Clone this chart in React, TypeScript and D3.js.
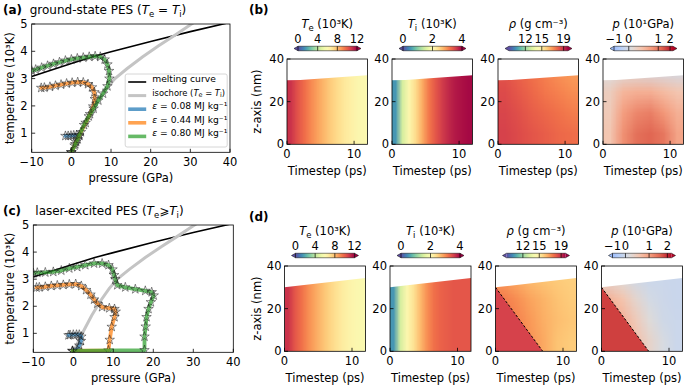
import { useMemo } from 'react'
import * as d3 from 'd3'

type Pt = [number, number]

// ---------- (a) / (c): temperature (10^3 K) against pressure (GPa) ----------
const pressureTicks = [-10, 0, 10, 20, 30, 40]
const temperatureTicks = [1, 2, 3, 4, 5]

const meltingCurve: Pt[] = [[-10, 3.08], [0, 3.55], [5.4, 3.8], [10, 3.98], [20, 4.36], [30, 4.72], [40, 5.06]]
const isochore: Pt[] = [[-0.2, 0.24], [2, 0.93], [4.6, 1.66], [7, 2.24], [9, 2.66], [11, 3.0], [14, 3.36],
  [18, 3.8], [22, 4.2], [26, 4.58], [30.3, 5.0], [32, 5.16]]

// ground-state PES trajectories
const groundLow: Pt[] = [[0, 0.3], [0.8, 0.55], [1.6, 0.78], [2.0, 0.9], [1.3, 0.92], [0.6, 0.92], [-0.1, 0.91], [-0.8, 0.9], [-1.5, 0.9]]
const groundMid: Pt[] = [[0, 0.3], [1.2, 0.68], [2.4, 1.04], [3.6, 1.38], [4.7, 1.7], [5.5, 1.98], [5.9, 2.25], [5.8, 2.5],
  [5.2, 2.68], [4.2, 2.8], [3, 2.86], [1.6, 2.87], [0.2, 2.85], [-1.2, 2.82], [-2.6, 2.78], [-4, 2.74], [-5.4, 2.7], [-6.8, 2.67], [-7.6, 2.66]]
const groundHigh: Pt[] = [[0, 0.3], [1, 0.6], [2, 0.93], [3.2, 1.3], [4.4, 1.62], [5.6, 1.9], [6.8, 2.2], [8, 2.45], [9.1, 2.72],
  [9.6, 3.0], [9.5, 3.28], [9.1, 3.52], [8.4, 3.7], [7.3, 3.8], [6, 3.82], [4.5, 3.8], [3, 3.77], [1.5, 3.74], [0, 3.7],
  [-1.5, 3.66], [-3, 3.6], [-4.5, 3.54], [-6, 3.47], [-7.5, 3.4], [-9, 3.33], [-10, 3.29]]

// laser-excited PES trajectories
const laserLow: Pt[] = [[-0.2, 0.35], [1, 0.4], [1.5, 0.55], [1.9, 0.72], [2.0, 0.88], [1.5, 0.95], [0.8, 0.95], [0, 0.95], [-0.8, 0.94], [-1.2, 0.93]]
const laserMid: Pt[] = [[-0.2, 0.35], [8.8, 0.37], [9.1, 0.76], [9.6, 1.24], [10.3, 1.6], [10.6, 1.8], [10.3, 1.9], [9, 1.93],
  [7.2, 1.97], [6, 2.1], [5.2, 2.25], [4.3, 2.43], [3.2, 2.6], [2, 2.75], [0.6, 2.82], [-1, 2.81], [-2.5, 2.79], [-4, 2.77],
  [-5.5, 2.75], [-7, 2.72], [-8.5, 2.7], [-9.2, 2.69]]
const laserHigh: Pt[] = [[-0.2, 0.35], [17.8, 0.38], [17.8, 0.88], [18.1, 1.25], [18.3, 1.6], [18.8, 1.9], [19.4, 2.15], [20.1, 2.4],
  [19.6, 2.52], [18, 2.57], [15.5, 2.63], [13, 2.7], [11, 2.78], [10.5, 3.0], [10.2, 3.15], [9.8, 3.36], [8.8, 3.52], [7.2, 3.58],
  [5.2, 3.58], [3, 3.52], [1, 3.45], [-1, 3.4], [-3, 3.32], [-5, 3.27], [-7, 3.25], [-9, 3.24], [-10, 3.22]]

const fluences = ['0.08', '0.44', '0.80']
const fluenceColors = ['#1f77b4', '#ff7f0e', '#2ca02c']

// ---------- (b) / (d): fields over time (ps) and depth (nm) ----------
const timeTicks = [0, 10]
const depthTicks = [0, 20, 40]

// 1-D profiles, one value per picosecond (0.5 ... 11.5 ps), uniform in depth
const teGround = [11.0, 10.3, 9.7, 9.1, 8.6, 8.1, 7.6, 7.2, 6.8, 6.5, 6.2, 6.0]
const tiGround = [0.5, 1.5, 2.05, 2.4, 2.8, 3.15, 3.4, 3.6, 3.75, 3.85, 3.9, 3.95]
const teLaser = [11.0, 10.2, 9.6, 9.0, 8.5, 8.0, 7.5, 7.1, 6.7, 6.4, 6.1, 5.9]
const tiLaser = [0.5, 1.5, 2.05, 2.35, 2.7, 3.0, 3.2, 3.3, 3.35, 3.4, 3.4, 3.4]

// 2-D fields, columns at 1,3,...,11 ps, rows at 35,25,15,5 nm
const rhoGround = [
  [18.2, 17.9, 17.6, 17.3, 17.0, 16.8],
  [18.4, 18.1, 17.8, 17.5, 17.3, 17.1],
  [18.5, 18.3, 18.0, 17.8, 17.6, 17.4],
  [18.6, 18.4, 18.2, 18.0, 17.8, 17.7],
]
const pGround = [
  [0.05, 0.05, 0.05, 0.0, -0.05, -0.1],
  [0.3, 0.55, 0.6, 0.6, 0.5, 0.4],
  [0.35, 0.75, 0.9, 0.95, 0.8, 0.6],
  [0.4, 0.85, 1.1, 1.25, 1.0, 0.7],
]
const rhoLaser = [
  [16.8, 16.5, 16.2, 16.0, 15.9, 15.8],
  [17.4, 17.1, 16.7, 16.4, 16.1, 15.9],
  [17.6, 17.3, 16.9, 16.5, 16.2, 16.0],
  [17.6, 17.4, 17.0, 16.6, 16.1, 15.9],
]
const pLaser = [
  [0.25, 0.15, 0.0, -0.1, -0.1, -0.15],
  [0.8, 0.6, 0.3, 0.05, -0.05, -0.15],
  [0.9, 0.8, 0.5, 0.2, 0.0, -0.1],
  [1.0, 0.9, 0.65, 0.35, 0.1, -0.1],
]

const surfaceGround: Pt[] = [[0, 30], [2, 30.2], [12, 32.4]]
const surfaceLaser: Pt[] = [[0, 30], [12, 34.4]]
const shockFront: Pt[] = [[0, 30], [7, 0]]
const rhoBehindShock = 18.6
const pBehindShock = 1.85

const teTicks = [0, 4, 8, 12]
const tiTicks = [0, 2, 4]
const rhoTicks = [12, 15, 19]
const pTicks = [-1, 0, 1, 2]

// ---------- colour maps ----------
const FONT = "'DejaVu Sans', sans-serif"
const spectralR = (f: number) => d3.interpolateSpectral(1 - f)
const coolwarm = d3.piecewise(d3.interpolateRgb, ['#3b4cc0', '#6282ea', '#8db0fe', '#b8d0f9', '#dddddd',
  '#f5c4ad', '#f49a7b', '#de604d', '#b40426'])
const pMap = (f: number) => coolwarm(0.3 + 0.7 * f)

type Norm = { frac: (v: number) => number; cmap: (f: number) => string }
const linNorm = (lo: number, hi: number): Norm => ({ frac: d3.scaleLinear([lo, hi], [0, 1]), cmap: spectralR })
const normTe = linNorm(0, 12)
const normTi = linNorm(0, 4)
const normRho = linNorm(9, 19.8)
const normPGround: Norm = { frac: d3.scaleLinear([-1, 0, 1, 2], [0, 0.25, 0.75, 0.95]), cmap: pMap }
const normPLaser: Norm = { frac: d3.scaleLinear([-1, 0, 1, 2], [0, 0.22, 0.62, 0.93]), cmap: pMap }
const colorOf = (n: Norm, v: number) => n.cmap(Math.max(0, Math.min(1, n.frac(v))))

type Part = string | { it: string; sub?: string }
function rich(parts: Part[], subSize: number, shift = 2.5) {
  const out: any[] = []
  let down = false
  parts.forEach((p, i) => {
    if (typeof p === 'string') {
      out.push(<tspan key={i} dy={down ? -shift : 0}>{p}</tspan>)
      down = false
    } else {
      out.push(<tspan key={i + 'a'} fontStyle="italic" dy={down ? -shift : 0}>{p.it}</tspan>)
      down = false
      if (p.sub) {
        out.push(<tspan key={i + 'b'} dy={shift} fontSize={subSize}>{p.sub}</tspan>)
        down = true
      }
    }
  })
  return out
}

function fieldImage(grid: number[][], norm: Norm, w: number, h: number) {
  const small = document.createElement('canvas')
  small.width = grid[0].length
  small.height = grid.length
  const sctx = small.getContext('2d')!
  grid.forEach((row, j) => row.forEach((v, i) => {
    sctx.fillStyle = colorOf(norm, v)
    sctx.fillRect(i, j, 1, 1)
  }))
  const big = document.createElement('canvas')
  big.width = w
  big.height = h
  const bctx = big.getContext('2d')!
  bctx.imageSmoothingEnabled = true
  bctx.imageSmoothingQuality = 'low'
  bctx.drawImage(small, 0, 0, w, h)
  return big.toDataURL()
}

type Box = { left: number; right: number; top: number; bottom: number }

function PESPanel({ id, box, curves, tag, title, legend }: {
  id: string; box: Box; curves: Pt[][]; tag: string; title: Part[]; legend?: boolean
}) {
  const x = d3.scaleLinear([-10, 40], [box.left, box.right])
  const y = d3.scaleLinear([0.3, 5], [box.bottom, box.top])
  const line = d3.line<Pt>().x(d => x(d[0])).y(d => y(d[1]))
  const star = d3.symbol(d3.symbolStar, 28)()!
  const order = [0, 1, 2]
  const lx = box.left + 93.5, ly = box.top + 50
  return (
    <g>
      <defs>
        <clipPath id={`clip-${id}`}>
          <rect x={box.left} y={box.top} width={box.right - box.left} height={box.bottom - box.top} />
        </clipPath>
      </defs>
      <text x={3} y={box.top - 10} fontSize={12} fontWeight="bold">{tag}</text>
      <text x={box.left - 2 + (id === 'c' ? 4 : 0)} y={box.top - 10} fontSize={12}>{rich(title, 8.5)}</text>
      <g clipPath={`url(#clip-${id})`}>
        <path d={line(meltingCurve)!} fill="none" stroke="#000" strokeWidth={1.6} />
        <path d={line(isochore)!} fill="none" stroke="#c4c4c4" strokeWidth={3} />
        {order.map(i => (
          <g key={i}>
            <path d={line(curves[i])!} fill="none" stroke={fluenceColors[i]} strokeOpacity={0.72}
              strokeWidth={3.8} strokeLinejoin="round" strokeLinecap="round" />
            {curves[i].map((d, k) => (
              <path key={k} d={star} transform={`translate(${x(d[0])},${y(d[1])})`}
                fill="none" stroke="#1b1b1b" strokeOpacity={0.85} strokeWidth={0.6} />
            ))}
          </g>
        ))}
      </g>
      <rect x={box.left} y={box.top} width={box.right - box.left} height={box.bottom - box.top}
        fill="none" stroke="#000" strokeWidth={0.8} />
      {pressureTicks.map(t => (
        <g key={t}>
          <line x1={x(t)} x2={x(t)} y1={box.bottom} y2={box.bottom - 3.5} stroke="#000" strokeWidth={0.8} />
          <text x={x(t)} y={box.bottom + 14} fontSize={11.5} textAnchor="middle">{t < 0 ? `\u2212${-t}` : t}</text>
        </g>
      ))}
      {temperatureTicks.map(t => (
        <g key={t}>
          <line x1={box.left} x2={box.left + 3.5} y1={y(t)} y2={y(t)} stroke="#000" strokeWidth={0.8} />
          <text x={box.left - 4} y={y(t)} dy="0.36em" fontSize={11.5} textAnchor="end">{t}</text>
        </g>
      ))}
      <text x={(box.left + box.right) / 2} y={box.bottom + 30} fontSize={11.5} textAnchor="middle">pressure (GPa)</text>
      <text transform={`translate(${10},${(box.top + box.bottom) / 2}) rotate(-90)`} fontSize={11.5}
        textAnchor="middle" dy="0.35em">temperature (10³K)</text>
      {legend && (
        <g>
          <rect x={lx} y={ly} width={102} height={73} rx={2} fill="#fff" fillOpacity={0.85}
            stroke="#cccccc" strokeWidth={0.8} />
          {[
            { c: '#000', w: 1.6, o: 1, t: ['melting curve'] as Part[] },
            { c: '#c4c4c4', w: 3, o: 1, t: ['isochore (', { it: 'T', sub: 'e' }, ' = ', { it: 'T', sub: 'i' }, ')'] as Part[] },
            ...fluences.map((f, i) => ({ c: fluenceColors[i], w: 3.6, o: 0.72, t: [{ it: 'ε' }, ` = ${f} MJ kg⁻¹`] as Part[] })),
          ].map((e, i) => (
            <g key={i}>
              <line x1={lx + 3} x2={lx + 21} y1={ly + 8 + i * 13.6} y2={ly + 8 + i * 13.6}
                stroke={e.c} strokeWidth={e.w} strokeOpacity={e.o} />
              <text x={lx + 27} y={ly + 8 + i * 13.6} dy="0.35em" fontSize={i === 1 ? 8.4 : 9.2}>{rich(e.t, 6.5, 1.8)}</text>
            </g>
          ))}
        </g>
      )}
    </g>
  )
}

function FieldPanel({ id, left, top, width, grid, norm, surface, ticks, cbTitle, shock }: {
  id: string; left: number; top: number; width: number; grid: number[][]; norm: Norm; surface: Pt[];
  ticks: number[]; cbTitle: Part[]; shock?: number
}) {
  const height = 85.3
  const x = d3.scaleLinear([0, 12], [left, left + width])
  const y = d3.scaleLinear([0, 40], [top + height, top])
  const line = d3.line<Pt>().x(d => x(d[0])).y(d => y(d[1]))
  const region = line([[0, 0], ...surface, [12, 0]])! + 'Z'
  const href = useMemo(() => fieldImage(grid, norm, Math.round(width), Math.round(height)), [grid, norm, width])
  const cb0 = left + 7, cb1 = left + 74, arrow = 4, cbY = top - 10.5, cbH = 4.5
  const inner = d3.scaleLinear([0, 1], [cb0 + arrow, cb1 - arrow])
  const stops = d3.range(0, 1.0001, 0.05)
  return (
    <g>
      <defs>
        <clipPath id={`clip-${id}`}><path d={region} /></clipPath>
        <linearGradient id={`grad-${id}`} x1="0" x2="1" y1="0" y2="0">
          {stops.map(s => <stop key={s} offset={s} stopColor={norm.cmap(s)} />)}
        </linearGradient>
      </defs>
      <image href={href} x={left} y={top} width={width} height={height} preserveAspectRatio="none"
        clipPath={`url(#clip-${id})`} />
      {shock !== undefined && (
        <g clipPath={`url(#clip-${id})`}>
          <path d={line([[0, 0], ...shockFront])! + 'Z'} fill={colorOf(norm, shock)} />
          <path d={line(shockFront)!} fill="none" stroke="#000" strokeWidth={1} strokeDasharray="2.5,1.8" />
        </g>
      )}
      <rect x={left} y={top} width={width} height={height} fill="none" stroke="#000" strokeWidth={0.8} />
      {timeTicks.map(t => (
        <g key={t}>
          <line x1={x(t)} x2={x(t)} y1={top + height} y2={top + height - 3.5} stroke="#000" strokeWidth={0.8} />
          <text x={x(t)} y={top + height + 14} fontSize={11.5} textAnchor="middle">{t}</text>
        </g>
      ))}
      {depthTicks.map(t => (
        <g key={t}>
          <line x1={left} x2={left + 3.5} y1={y(t)} y2={y(t)} stroke="#000" strokeWidth={0.8} />
          <text x={left - 3} y={y(t)} dy="0.36em" fontSize={11.5} textAnchor="end">{t}</text>
        </g>
      ))}
      <text x={left + width / 2} y={top + height + 31} fontSize={11.5} textAnchor="middle">Timestep (ps)</text>
      {/* colour bar */}
      <rect x={inner(0)} y={cbY - cbH / 2} width={inner(1) - inner(0)} height={cbH} fill={`url(#grad-${id})`} />
      <path d={`M${inner(0)},${cbY - cbH / 2}L${cb0},${cbY}L${inner(0)},${cbY + cbH / 2}Z`} fill={norm.cmap(0)} />
      <path d={`M${inner(1)},${cbY - cbH / 2}L${cb1},${cbY}L${inner(1)},${cbY + cbH / 2}Z`} fill={norm.cmap(1)} />
      <path d={`M${inner(0)},${cbY - cbH / 2}L${cb0},${cbY}L${inner(0)},${cbY + cbH / 2}L${inner(1)},${cbY + cbH / 2}L${cb1},${cbY}L${inner(1)},${cbY - cbH / 2}Z`}
        fill="none" stroke="#000" strokeWidth={0.5} />
      {ticks.map(t => {
        const px = inner(norm.frac(t))
        return (
          <g key={t}>
            <line x1={px} x2={px} y1={cbY - cbH / 2} y2={cbY + cbH / 2} stroke="#000" strokeWidth={0.7} />
            <text x={px} y={top - 16} fontSize={11.5} textAnchor="middle">{t < 0 ? `\u2212${-t}` : t}</text>
          </g>
        )
      })}
      <text x={left + width / 2} y={top - 31} fontSize={11.5} textAnchor="middle">{rich(cbTitle, 8.5)}</text>
    </g>
  )
}

const teTitle: Part[] = [{ it: 'T', sub: 'e' }, ' (10³K)']
const tiTitle: Part[] = [{ it: 'T', sub: 'i' }, ' (10³K)']
const rhoTitle: Part[] = [{ it: 'ρ' }, ' (g cm⁻³)']
const pTitle: Part[] = [{ it: 'p' }, ' (10¹GPa)']

function FieldRow({ prefix, top, lefts, width, tag, te, ti, rho, p, surface, pNorm, shock }: {
  prefix: string; top: number; lefts: number[]; width: number; tag: string; te: number[]; ti: number[];
  rho: number[][]; p: number[][]; surface: Pt[]; pNorm: Norm; shock: boolean
}) {
  return (
    <g>
      <text x={249} y={top - 45} fontSize={12} fontWeight="bold">{tag}</text>
      <text transform={`translate(${257},${top + 42.6}) rotate(-90)`} fontSize={11.5} textAnchor="middle"
        dy="0.35em">z-axis (nm)</text>
      <FieldPanel id={`${prefix}te`} left={lefts[0]} top={top} width={width} grid={[te]} norm={normTe}
        surface={surface} ticks={teTicks} cbTitle={teTitle} />
      <FieldPanel id={`${prefix}ti`} left={lefts[1]} top={top} width={width} grid={[ti]} norm={normTi}
        surface={surface} ticks={tiTicks} cbTitle={tiTitle} />
      <FieldPanel id={`${prefix}rho`} left={lefts[2]} top={top} width={width} grid={rho} norm={normRho}
        surface={surface} ticks={rhoTicks} cbTitle={rhoTitle} shock={shock ? rhoBehindShock : undefined} />
      <FieldPanel id={`${prefix}p`} left={lefts[3]} top={top} width={width} grid={p} norm={pNorm}
        surface={surface} ticks={pTicks} cbTitle={pTitle} shock={shock ? pBehindShock : undefined} />
    </g>
  )
}

export default function App() {
  return (
    <svg width={685} height={386} viewBox="0 0 685 386" fontFamily={FONT}
      style={{ position: 'absolute', left: 0, top: 0, background: '#fff' }}>
      <PESPanel id="a" box={{ left: 31.7, right: 230, top: 24, bottom: 152.3 }}
        curves={[groundLow, groundMid, groundHigh]} tag="(a)"
        title={['ground-state PES (', { it: 'T', sub: 'e' }, ' = ', { it: 'T', sub: 'i' }, ')']} legend />
      <PESPanel id="c" box={{ left: 33.3, right: 233.3, top: 225, bottom: 352.3 }}
        curves={[laserLow, laserMid, laserHigh]} tag="(c)"
        title={['laser-excited PES (', { it: 'T', sub: 'e' }, '⩾', { it: 'T', sub: 'i' }, ')']} />
      <FieldRow prefix="b" top={59} lefts={[287, 392, 498, 603]} width={80.5} tag="(b)"
        te={teGround} ti={tiGround} rho={rhoGround} p={pGround} surface={surfaceGround} pNorm={normPGround} shock={false} />
      <FieldRow prefix="d" top={266} lefts={[284.5, 390, 495.5, 601.5]} width={81} tag="(d)"
        te={teLaser} ti={tiLaser} rho={rhoLaser} p={pLaser} surface={surfaceLaser} pNorm={normPLaser} shock />
    </svg>
  )
}
